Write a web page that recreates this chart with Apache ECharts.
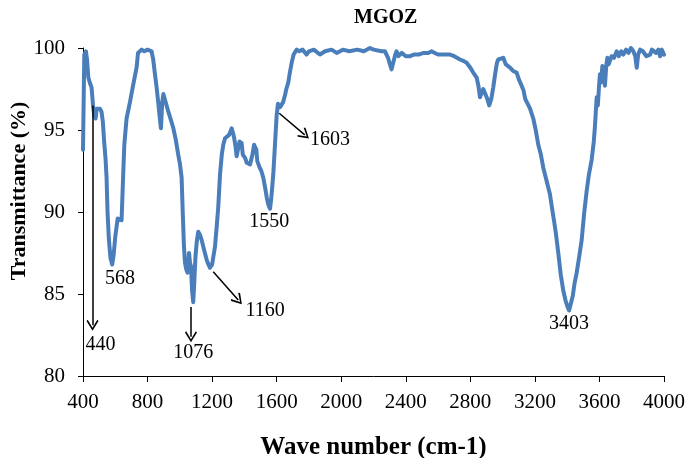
<!DOCTYPE html>
<html>
<head>
<meta charset="utf-8">
<script src="https://cdn.jsdelivr.net/npm/echarts@6/dist/echarts.min.js"></script>
<style>html,body{margin:0;padding:0;background:#fff}#c{width:685px;height:458px}</style>
</head>
<body>
<div id="c"></div>
<script>
var chartTitle = 'MGOZ';
var xName = 'Wave number (cm-1)';
var yName = 'Transmittance (%)';
var xTicks = [400, 4000, 400];
var yTicks = [80, 100, 5];

var wavenumber = [
400,408,418,425,433,445,453,462,470,478,485,492,505,515,523,531,540,546,552,560,570,581,590,600,615,625,639,648,656,670,691,710,732,741,763,780,800,825,835,846,856,866,875,883,891,898,904,915,929,945,960,975,990,1001,1011,1018,1025,1032,1040,1048,1057,1063,1069,1076,1083,1090,1097,1105,1114,1125,1135,1150,1166,1177,1187,1200,1218,1230,1238,1249,1260,1269,1280,1290,1305,1315,1321,1330,1337,1345,1352,1362,1370,1377,1383,1390,1397,1404,1415,1425,1435,1450,1460,1466,1474,1480,1486,1495,1505,1517,1530,1540,1550,1559,1568,1579,1590,1600,1608,1614,1622,1631,1640,1651,1660,1672,1680,1693,1705,1724,1740,1760,1785,1800,1830,1868,1900,1940,1972,2010,2050,2100,2140,2178,2200,2250,2271,2290,2305,2312,2325,2335,2343,2355,2364,2375,2384,2400,2426,2450,2480,2510,2540,2560,2580,2600,2612,2630,2650,2674,2700,2736,2760,2777,2800,2818,2839,2850,2860,2870,2880,2891,2905,2917,2930,2942,2955,2965,2973,2985,3004,3020,3030,3046,3065,3087,3100,3110,3118,3130,3140,3149,3170,3190,3205,3221,3237,3252,3270,3293,3305,3318,3330,3345,3360,3376,3390,3403,3412,3420,3435,3445,3459,3475,3490,3505,3521,3535,3552,3565,3572,3583,3590,3597,3603,3610,3618,3624,3634,3642,3649,3657,3665,3675,3690,3707,3720,3735,3748,3765,3780,3795,3810,3822,3831,3840,3852,3870,3890,3914,3925,3935,3950,3965,3976,3986,3995,4000
];
var transmittance = [
93.8,99.6,99.8,99.3,98.2,97.8,97.6,96.5,95.9,95.7,96.3,96.4,96.3,96.1,95.5,94.3,93.2,92.1,90.0,88.4,87.2,86.8,87.4,88.5,89.6,89.7,89.5,92.0,94.1,95.7,96.7,97.7,98.8,99.7,99.9,99.8,99.9,99.8,99.3,98.4,97.6,96.7,95.8,95.1,96.7,97.2,97.1,96.6,96.1,95.6,95.1,94.4,93.5,92.9,92.1,90.0,88.0,86.9,86.5,86.3,87.5,86.9,86.7,85.2,84.5,85.8,87.3,88.2,88.8,88.6,88.3,87.7,87.1,86.8,86.6,86.8,87.9,89.3,90.3,92.3,93.5,94.1,94.5,94.6,94.7,94.6,95.1,94.8,94.5,94.0,93.4,93.5,94.3,94.2,94.2,93.5,93.4,93.3,93.0,92.9,92.9,93.5,94.1,94.1,93.8,93.1,93.0,92.7,92.5,92.1,91.4,90.8,90.4,90.2,91.0,92.3,94.2,95.9,96.6,96.7,96.4,96.3,96.7,97.1,97.5,97.9,98.4,99.1,99.6,99.9,99.8,99.9,99.6,99.8,99.9,99.6,99.8,99.9,99.7,99.9,99.8,99.9,99.8,100.0,99.9,99.8,99.8,99.4,98.9,98.7,99.2,99.6,99.8,99.5,99.4,99.7,99.7,99.5,99.5,99.6,99.6,99.7,99.7,99.8,99.7,99.6,99.5,99.6,99.6,99.6,99.5,99.3,99.2,99.1,98.8,98.5,98.2,97.7,97.0,97.1,97.5,97.6,96.9,96.5,96.9,97.6,98.5,99.1,99.3,99.4,99.4,99.0,99.1,98.8,98.6,98.5,98.1,98.0,97.7,97.4,96.9,96.8,96.3,95.7,95.0,94.1,93.5,92.7,92.0,91.1,90.3,89.5,88.7,87.5,86.2,85.2,84.6,84.2,84.0,84.1,84.9,85.6,86.3,87.3,88.3,89.9,91.3,92.3,93.2,94.3,95.2,97.0,96.5,97.6,98.4,97.9,98.9,98.8,97.7,98.9,99.4,99.0,98.9,99.5,99.4,99.8,99.5,99.8,99.6,99.9,99.7,100.0,99.8,99.5,98.8,99.6,99.9,99.8,99.5,99.6,99.9,99.9,99.7,99.9,99.5,99.9,99.8,99.6
];

// peak annotation labels: [text, wavenumber, transmittance]
var peakLabels = [
  ['440', 508, 81.9],
  ['568', 629, 85.96],
  ['1076', 1083, 81.4],
  ['1160', 1528, 84.0],
  ['1550', 1554, 89.4],
  ['1603', 1930, 94.4],
  ['3403', 3411, 83.2]
];
// arrows: [fromX, fromY, toX, toY]
var peakArrows = [
  [459, 96.5, 459, 83.1],
  [1069, 84.2, 1069, 82.4],
  [1207, 86.36, 1362, 84.63],
  [1616, 96.02, 1774, 94.7]
];

var serif = "'Liberation Serif','Times New Roman',serif";
var seriesData = wavenumber.map(function (w, i) { return [w, transmittance[i]]; });

var arrowHead = 'path://M10,0 L20,10 L18,11.5 L10,3 L2,11.5 L0,10 Z';

var chart = echarts.init(document.getElementById('c'), null, {renderer: 'canvas'});
chart.setOption({
  animation: false,
  backgroundColor: '#fff',
  title: {
    text: chartTitle,
    left: 349, top: 3,
    textStyle: {fontFamily: serif, fontWeight: 'bold', fontSize: 20, color: '#000'}
  },
  grid: {left: 83, right: 21, top: 48, bottom: 82, containLabel: false, outerBoundsMode: 'none'},
  xAxis: {
    type: 'value', min: xTicks[0], max: xTicks[1], interval: xTicks[2],
    name: xName, nameLocation: 'middle', nameGap: 59, nameMoveOverlap: false,
    nameTextStyle: {fontFamily: serif, fontWeight: 'bold', fontSize: 25, color: '#000'},
    axisLine: {show: true, onZero: false, lineStyle: {color: '#000', width: 1}},
    axisTick: {show: true, inside: false, length: 6, lineStyle: {color: '#000'}},
    axisLabel: {fontFamily: serif, fontSize: 21, color: '#000', margin: 16, formatter: function (v) { return String(v); }},
    splitLine: {show: false}
  },
  yAxis: {
    type: 'value', min: yTicks[0], max: yTicks[1], interval: yTicks[2],
    name: yName, nameLocation: 'middle', nameGap: 53, nameMoveOverlap: false,
    nameTextStyle: {fontFamily: serif, fontWeight: 'bold', fontSize: 22, color: '#000', padding: [0, 0, 0, 42]},
    axisLine: {show: true, lineStyle: {color: '#000', width: 1}},
    axisTick: {show: true, inside: false, length: 5, lineStyle: {color: '#000'}},
    axisLabel: {fontFamily: serif, fontSize: 21, color: '#000', margin: 18, formatter: function (v) { return String(v); }},
    splitLine: {show: false}
  },
  series: [{
    type: 'line',
    data: seriesData,
    showSymbol: false,
    symbol: 'none',
    smooth: false,
    lineStyle: {color: '#4a7ebb', width: 4, join: 'round', cap: 'round'},
    itemStyle: {color: '#4a7ebb'},
    markLine: {
      silent: true,
      animation: false,
      symbol: ['none', arrowHead],
      symbolSize: [12, 11],
      lineStyle: {color: '#000', width: 1.5, type: 'solid'},
      itemStyle: {color: '#000'},
      label: {show: false},
      data: peakArrows.map(function (a) {
        return [{coord: [a[0], a[1]]}, {coord: [a[2], a[3]]}];
      })
    },
    markPoint: {
      silent: true,
      animation: false,
      symbol: 'rect',
      symbolSize: 1,
      itemStyle: {color: 'rgba(0,0,0,0)'},
      label: {show: true, position: 'inside', formatter: '{b}', fontFamily: serif, fontSize: 20, color: '#000'},
      data: peakLabels.map(function (p) { return {name: p[0], coord: [p[1], p[2]]}; })
    }
  }]
});
</script>
</body>
</html>
